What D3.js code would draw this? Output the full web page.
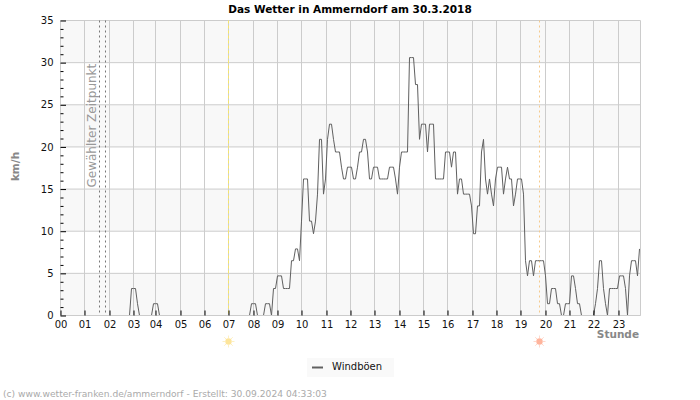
<!DOCTYPE html>
<html>
<head>
<meta charset="utf-8">
<script src="https://cdn.jsdelivr.net/npm/d3@7"></script>
<style>
  html, body { margin: 0; padding: 0; background: #fff; }
  svg { display: block; }
  text { font-family: "DejaVu Sans", sans-serif; }
</style>
</head>
<body>
<div id="vis"></div>
<script>

var width = 700,
  height = 400;

// Chart texts
var title = 'Das Wetter in Ammerndorf am 30.3.2018',
  seriesName = 'Windböen',
  yTitle = 'km/h',
  xTitle = 'Stunde',
  markerLabel = 'Gewählter Zeitpunkt',
  footer = '(c) www.wetter-franken.de/ammerndorf - Erstellt: 30.09.2024 04:33:03';

// Tick labels and the sample number where each hour starts
var hourLabels = [ '00', '01', '02', '03', '04', '05', '06', '07', '08', '09', '10', '11',
  '12', '13', '14', '15', '16', '17', '18', '19', '20', '21', '22', '23' ];
var hourSamples = [ -0.5, 11.5, 24, 36, 47, 59.5, 71.5, 83.5, 96, 108, 120, 132.5,
  144.5, 156.5, 169, 181, 193, 205.5, 217.5, 229.5, 242, 254, 266, 278.5 ];

var yMajor = [ 0, 5, 10, 15, 20, 25, 30, 35 ];
var yMinor = [ 1, 2, 3, 4, 6, 7, 8, 9, 11, 12, 13, 14, 16, 17, 18, 19, 21, 22, 23, 24, 26, 27, 28, 29, 31, 32, 33, 34 ];
var bands = [ [ 30, 35 ], [ 20, 25 ], [ 10, 15 ], [ 0, 5 ] ];

// Marked samples: selected time, sunrise, sunset
var selectedSamples = [ 19, 22 ];
var sunriseSample = 83.5,
  sunsetSample = 239;

// Wind gusts in km/h, one value per sample
var gusts = [
  0, 0, 0, 0, 0, 0, 0, 0, 0, 0,
  0, 0, 0, 0, 0, 0, 0, 0, 0, 0,
  0, 0, 0, 0, 0, 0, 0, 0, 0, 0,
  0, 0, 0, 0, 0, 3.2, 3.2, 3.2, 1.4, 0,
  0, 0, 0, 0, 0, 0, 1.4, 1.4, 1.4, 0,
  0, 0, 0, 0, 0, 0, 0, 0, 0, 0,
  0, 0, 0, 0, 0, 0, 0, 0, 0, 0,
  0, 0, 0, 0, 0, 0, 0, 0, 0, 0,
  0, 0, 0, 0, 0, 0, 0, 0, 0, 0,
  0, 0, 0, 0, 0, 1.4, 1.4, 1.4, 0, 0,
  0, 0, 1.4, 1.4, 1.4, 0, 3.2, 3.2, 4.7, 4.7,
  4.7, 3.2, 3.2, 3.2, 3.2, 6.5, 6.5, 7.9, 7.9, 6.5,
  11.2, 16.2, 16.2, 16.2, 11.2, 11.2, 9.7, 11.2, 14.4, 20.9,
  20.9, 14.4, 16.2, 20.9, 22.7, 22.7, 20.9, 19.4, 19.4, 19.4,
  17.6, 16.2, 16.2, 17.6, 17.6, 17.6, 16.2, 16.2, 17.6, 19.4,
  19.4, 20.9, 20.9, 19.4, 16.2, 16.2, 17.6, 17.6, 17.6, 16.2,
  16.2, 16.2, 16.2, 16.2, 17.6, 17.6, 17.6, 16.2, 14.4, 17.6,
  19.4, 19.4, 19.4, 19.4, 30.6, 30.6, 30.6, 27.4, 27.4, 20.9,
  22.7, 22.7, 22.7, 19.4, 22.7, 22.7, 22.7, 16.2, 16.2, 16.2,
  16.2, 16.2, 19.4, 19.4, 19.4, 17.6, 19.4, 19.4, 14.4, 16.2,
  16.2, 14.4, 14.4, 14.4, 14.4, 13, 9.7, 9.7, 13, 13,
  19.4, 20.9, 16.2, 14.4, 16.2, 14.4, 13, 16.2, 17.6, 17.6,
  17.6, 14.4, 16.2, 17.6, 16.2, 16.2, 13, 14.4, 16.2, 16.2,
  16.2, 14.4, 6.5, 4.7, 6.5, 6.5, 4.7, 6.5, 6.5, 6.5,
  6.5, 6.5, 4.7, 1.4, 1.4, 3.2, 3.2, 3.2, 1.4, 1.4,
  0, 0, 1.4, 1.4, 1.4, 4.7, 4.7, 3.2, 1.4, 1.4,
  0, 0, 0, 0, 0, 0, 0, 1.4, 3.2, 6.5,
  6.5, 3.2, 1.4, 0, 3.2, 3.2, 3.2, 3.2, 3.2, 4.7,
  4.7, 4.7, 3.2, 0, 4.7, 6.5, 6.5, 6.5, 4.7, 7.9
];

/* Scales */

var x = d3.scaleLinear()
  .domain( [ -0.5, 289.5 ] )
  .range( [ 60.5, 640.5 ] );

var y = d3.scaleLinear()
  .domain( [ 0, 35 ] )
  .range( [ 315.5, 20.5 ] );

var line = d3.line()
  .x( ( d, i ) => x( i ) )
  .y( d => y( d ) );

/* Drawing */

var svg = d3.select( '#vis' ).append( 'svg' )
  .attr( 'width', width )
  .attr( 'height', height );

svg.append( 'rect' )
  .attr( 'width', width )
  .attr( 'height', height )
  .attr( 'fill', '#fff' );

// Bands

svg.selectAll( 'rect.band' )
  .data( bands )
  .enter().append( 'rect' )
    .attr( 'class', 'band' )
    .attr( 'x', x.range()[ 0 ] )
    .attr( 'y', d => y( d[ 1 ] ) )
    .attr( 'width', x.range()[ 1 ] - x.range()[ 0 ] )
    .attr( 'height', d => y( d[ 0 ] ) - y( d[ 1 ] ) )
    .attr( 'fill', '#f8f8f8' );

// Grid

svg.selectAll( 'line.gridY' )
  .data( yMajor )
  .enter().append( 'line' )
    .attr( 'class', 'gridY' )
    .attr( 'x1', x.range()[ 0 ] )
    .attr( 'x2', x.range()[ 1 ] )
    .attr( 'y1', d => y( d ) )
    .attr( 'y2', d => y( d ) )
    .attr( 'stroke', '#ccc' );

svg.selectAll( 'line.gridX' )
  .data( hourSamples.concat( [ 289.5 ] ) )
  .enter().append( 'line' )
    .attr( 'class', 'gridX' )
    .attr( 'x1', d => x( d ) )
    .attr( 'x2', d => x( d ) )
    .attr( 'y1', y( 35 ) )
    .attr( 'y2', y( 0 ) )
    .attr( 'stroke', '#ccc' );

// Markers

svg.selectAll( 'line.selected' )
  .data( selectedSamples )
  .enter().append( 'line' )
    .attr( 'class', 'selected' )
    .attr( 'x1', d => x( d ) )
    .attr( 'x2', d => x( d ) )
    .attr( 'y1', y( 35 ) )
    .attr( 'y2', y( 0 ) )
    .attr( 'stroke', '#777' )
    .attr( 'stroke-dasharray', '2,3' );

svg.append( 'line' )
  .attr( 'x1', x( sunriseSample ) )
  .attr( 'x2', x( sunriseSample ) )
  .attr( 'y1', y( 35 ) )
  .attr( 'y2', y( 0 ) )
  .attr( 'stroke', '#f7e66a' )
  .attr( 'stroke-dasharray', '3,2' );

svg.append( 'line' )
  .attr( 'x1', x( sunsetSample ) )
  .attr( 'x2', x( sunsetSample ) )
  .attr( 'y1', y( 35 ) )
  .attr( 'y2', y( 0 ) )
  .attr( 'stroke', '#f5c98a' )
  .attr( 'stroke-dasharray', '2,3' );

svg.append( 'text' )
  .attr( 'transform', 'translate(' + 96 + ',' + 187.5 + ') rotate(-90)' )
  .attr( 'font-size', 12 )
  .attr( 'fill', '#999' )
  .text( markerLabel );

// Series

svg.append( 'path' )
  .datum( gusts )
  .attr( 'd', line )
  .attr( 'fill', 'none' )
  .attr( 'stroke', '#606060' )
  .attr( 'stroke-width', 1 );

// The series sits under the base line where it is zero
svg.append( 'line' )
  .attr( 'x1', x.range()[ 0 ] )
  .attr( 'x2', x.range()[ 1 ] )
  .attr( 'y1', y( 0 ) )
  .attr( 'y2', y( 0 ) )
  .attr( 'stroke', '#ccc' );

// Axes

var xAxis = d3.axisBottom( x )
  .tickValues( hourSamples )
  .tickFormat( ( d, i ) => hourLabels[ i ] )
  .tickSizeInner( -5 )
  .tickSizeOuter( 0 )
  .tickPadding( 5 );

var gx = svg.append( 'g' )
  .attr( 'transform', 'translate(0,' + y( 0 ) + ')' )
  .call( xAxis );

var yAxis = d3.axisLeft( y )
  .tickValues( yMajor )
  .tickSizeInner( -5.5 )
  .tickSizeOuter( 0 )
  .tickPadding( 7 );

var gy = svg.append( 'g' )
  .attr( 'transform', 'translate(' + x.range()[ 0 ] + ',0)' )
  .call( yAxis );

var yAxisMinor = d3.axisLeft( y )
  .tickValues( yMinor )
  .tickFormat( '' )
  .tickSizeInner( -3 )
  .tickSizeOuter( 0 );

var gyMinor = svg.append( 'g' )
  .attr( 'transform', 'translate(' + x.range()[ 0 ] + ',0)' )
  .call( yAxisMinor );

[ gx, gy, gyMinor ].forEach( g => {
  g.select( '.domain' ).remove();
  g.selectAll( 'text' )
    .attr( 'fill', '#111' )
    .style( 'font-size', '10px' )
    .style( 'font-family', '"DejaVu Sans", sans-serif' );
} );

// Titles

svg.append( 'text' )
  .attr( 'x', 350 )
  .attr( 'y', 12.5 )
  .attr( 'text-anchor', 'middle' )
  .attr( 'font-size', 10.5 )
  .attr( 'font-weight', 'bold' )
  .attr( 'fill', '#000' )
  .text( title );

svg.append( 'text' )
  .attr( 'transform', 'translate(' + 19 + ',' + 166.5 + ') rotate(-90)' )
  .attr( 'text-anchor', 'middle' )
  .attr( 'font-size', 10.5 )
  .attr( 'font-weight', 'bold' )
  .attr( 'fill', '#888' )
  .text( yTitle );

svg.append( 'text' )
  .attr( 'x', 639 )
  .attr( 'y', 338 )
  .attr( 'text-anchor', 'end' )
  .attr( 'font-size', 10.5 )
  .attr( 'font-weight', 'bold' )
  .attr( 'fill', '#888' )
  .text( xTitle );

// Sun symbols

function sun( sample, core, rays ) {

  var g = svg.append( 'g' )
    .attr( 'transform', 'translate(' + x( sample ) + ',341.5)' );

  g.selectAll( 'line' )
    .data( d3.range( 8 ) )
    .enter().append( 'line' )
      .attr( 'x1', d => 3.5 * Math.cos( d * Math.PI / 4 ) )
      .attr( 'y1', d => 3.5 * Math.sin( d * Math.PI / 4 ) )
      .attr( 'x2', d => 6 * Math.cos( d * Math.PI / 4 ) )
      .attr( 'y2', d => 6 * Math.sin( d * Math.PI / 4 ) )
      .attr( 'stroke', rays );

  g.append( 'circle' )
    .attr( 'r', 3.2 )
    .attr( 'fill', core );

}

sun( sunriseSample, '#fde59b', '#fdf0c4' );
sun( sunsetSample, '#ffb49c', '#ffd9cc' );

// Legend

svg.append( 'rect' )
  .attr( 'x', 307 )
  .attr( 'y', 358 )
  .attr( 'width', 87 )
  .attr( 'height', 19 )
  .attr( 'fill', '#f9f9f9' );

svg.append( 'line' )
  .attr( 'x1', 312 )
  .attr( 'x2', 323 )
  .attr( 'y1', 367.5 )
  .attr( 'y2', 367.5 )
  .attr( 'stroke', '#606060' )
  .attr( 'stroke-width', 2 );

svg.append( 'text' )
  .attr( 'x', 332 )
  .attr( 'y', 370 )
  .attr( 'font-size', 10 )
  .attr( 'fill', '#111' )
  .text( seriesName );

// Footer

svg.append( 'text' )
  .attr( 'x', 3 )
  .attr( 'y', 397 )
  .attr( 'font-size', 9.15 )
  .attr( 'fill', '#aaa' )
  .text( footer );

</script>
</body>
</html>
